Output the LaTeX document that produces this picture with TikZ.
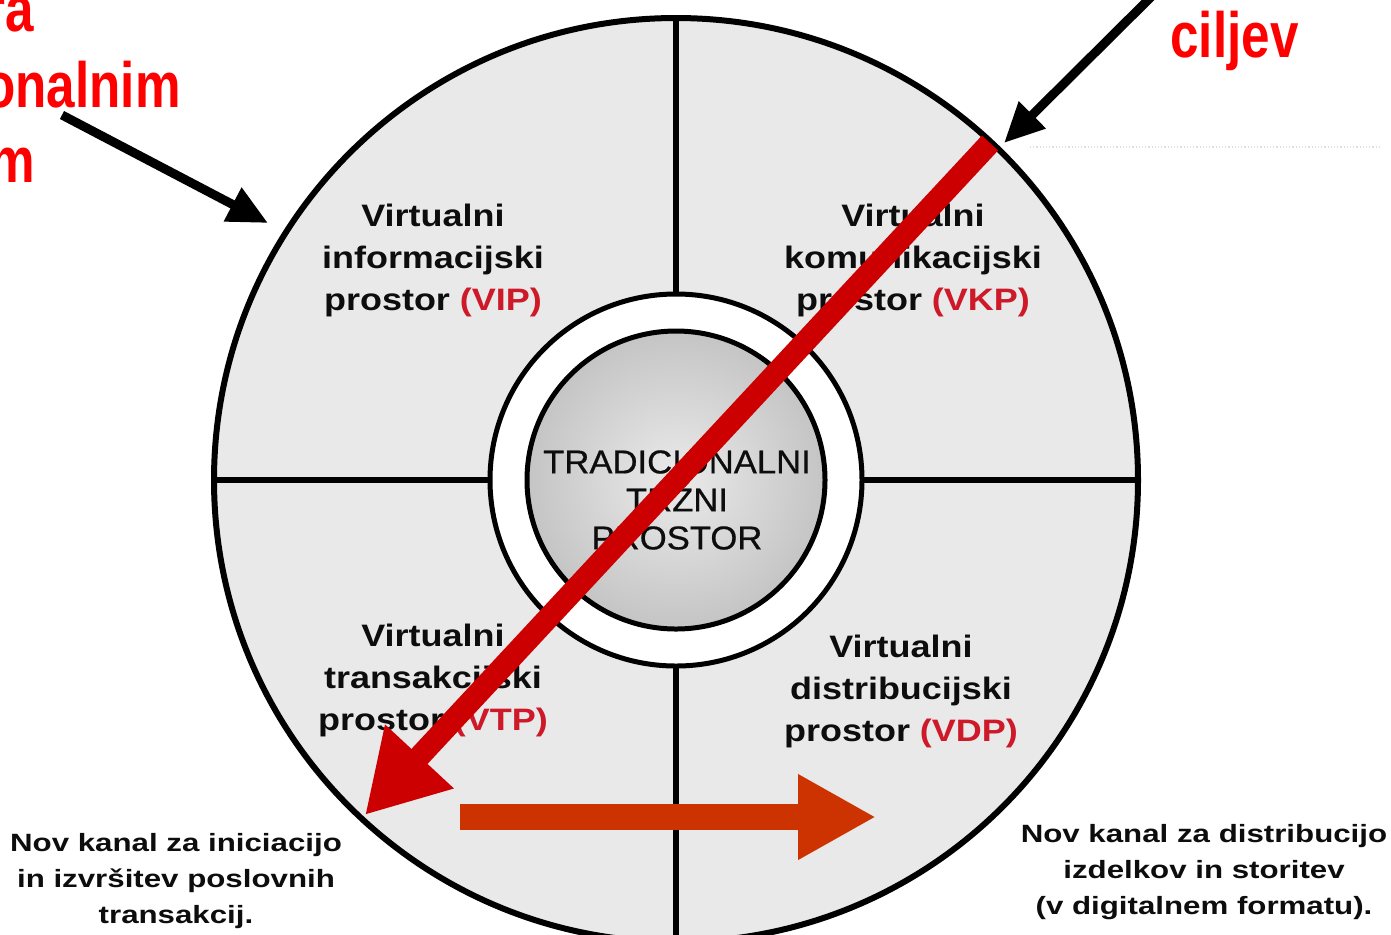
\documentclass[tikz,border=0pt]{standalone}
\usepackage{fontspec}
\setmainfont{Liberation Sans}
\newfontfamily\quadfont[FakeStretch=1.16]{Liberation Sans}
\newfontfamily\corefont[FakeStretch=1.05,FakeBold=0.6]{Liberation Sans}
\newfontfamily\notefont[FakeStretch=1.25]{Liberation Sans}
\newfontfamily\callfont[FakeStretch=0.8]{Liberation Sans}
\usetikzlibrary{arrows.meta}
\definecolor{quadgray}{RGB}{233,233,233}
\definecolor{arrowred}{RGB}{204,0,0}
\definecolor{arroworange}{RGB}{204,51,0}
\definecolor{callred}{RGB}{255,0,0}
\definecolor{abbrred}{RGB}{205,25,40}
\newcommand{\abbr}[1]{\textcolor{abbrred}{(#1)}}

\begin{document}
\begin{tikzpicture}[
    x=0.5pt, y=-0.5pt,
    quadtext/.style={%
        align=center, inner sep=0pt, text=black!95,
        font=\quadfont\fontsize{15.5pt}{21pt}\selectfont\bfseries},
    coretext/.style={%
        align=center, inner sep=0pt, text=black!95,
        font=\corefont\fontsize{16.5pt}{19pt}\selectfont},
    notetext/.style={%
        align=center, inner sep=0pt, text=black!95,
        font=\notefont\fontsize{12.5pt}{18pt}\selectfont\bfseries},
    calltext/.style={%
        inner sep=0pt, text=callred,
        font=\callfont\fontsize{32pt}{37.5pt}\selectfont\bfseries},
    divider/.style={line width=3pt},
    pointer/.style={line width=4.5pt, -{Triangle[length=20pt,width=18pt]}},
]
    \clip (0,0) rectangle (1391,934);
    \fill[white] (0,0) rectangle (1391,934);
    \coordinate (c) at (676,480);
    % Quadrants and rings
    \fill[quadgray] (c) circle (231pt);
    \draw[divider] (676,18) -- (676,294);
    \draw[divider] (676,666) -- (676,942);
    \draw[divider] (214,480) -- (490,480);
    \draw[divider] (862,480) -- (1138,480);
    \filldraw[fill=white, draw=black, line width=2.5pt] (c) circle (93pt);
    \shade[inner color=black!8, outer color=black!23] (c) circle (74.5pt);
    \draw[line width=2.5pt] (c) circle (74.5pt);
    \draw[line width=3pt] (c) circle (231pt);
    % faint rule at the top right
    \draw[black!12, line width=0.6pt, densely dotted] (1030,147) -- (1380,147);
    % Spaces
    \node[quadtext] (vip) at (433,260) {Virtualni\\informacijski\\prostor \abbr{VIP}};
    \node[quadtext] (vkp) at (913,260) {Virtualni\\komunikacijski\\prostor \abbr{VKP}};
    \node[quadtext] (vtp) at (433,680) {Virtualni\\transakcijski\\prostor \abbr{VTP}};
    \node[quadtext] (vdp) at (901,691) {Virtualni\\distribucijski\\prostor \abbr{VDP}};
    \node[coretext] (core) at (677,500) {TRADICIONALNI\\TRŽNI\\PROSTOR};
    % Channels
    \node[notetext] (initnote) at (176,881) {Nov kanal za iniciacijo\\in izvršitev poslovnih\\transakcij.};
    \node[notetext] (distnote) at (1204,872) {Nov kanal za distribucijo\\izdelkov in storitev\\(v digitalnem formatu).};
    % Red callouts
    \node[calltext, anchor=base east] (callra) at (34,31) {ra};
    \node[calltext, anchor=base east] (callon) at (181,107) {onalnim};
    \node[calltext, anchor=base east] (callm) at (35,182) {m};
    \node[calltext, anchor=base west] (callcil) at (1170,57) {ciljev};
    % Arrows
    \coordinate (leftfrom) at (62,115);
    \coordinate (lefttip) at (268,223);
    \coordinate (rightfrom) at (1153,-5);
    \coordinate (righttip) at (1004,143);
    \draw[pointer] (leftfrom) -- (lefttip);
    \draw[pointer] (rightfrom) -- (righttip);
    \coordinate (crossfrom) at (990,143);
    \coordinate (crosstip) at (365,815);
    \draw[arrowred, line width=11pt, -{Triangle[length=40pt,width=44pt]}] (crossfrom) -- (crosstip);
    \coordinate (flowfrom) at (460,817);
    \coordinate (flowtip) at (876,817);
    \draw[arroworange, line width=13pt, -{Triangle[length=39pt,width=40pt]}] (flowfrom) -- (flowtip);
\end{tikzpicture}
\end{document}
